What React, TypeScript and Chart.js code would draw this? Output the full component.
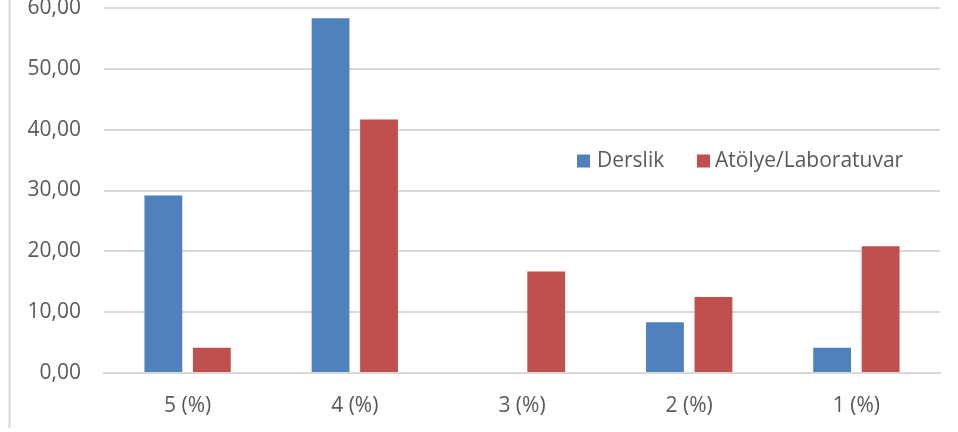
import React, { useEffect, useRef } from "react";
import { Chart, registerables } from "chart.js";

Chart.register(...registerables);

const categories = ["5 (%)", "4 (%)", "3 (%)", "2 (%)", "1 (%)"];
const dersLikValues = [29.17, 58.33, 0, 8.33, 4.17];
const atolyeValues = [4.17, 41.67, 16.67, 12.5, 20.83];
const seriesNames = ["Derslik", "Atölye/Laboratuvar"];
const seriesColors = ["#4f81bd", "#c0504d"];

const CROP = 20;
const FONT = "'Open Sans', sans-serif";
const FSIZE = 21;
const TEXT = "#595959";
const GRID = "#d9d9d9";

const decorPlugin = {
  id: "decor",
  beforeDraw(chart: any) {
    const ctx = chart.ctx;
    ctx.save();
    ctx.strokeStyle = GRID;
    ctx.lineWidth = 2;
    ctx.beginPath();
    ctx.moveTo(9.5, 0);
    ctx.lineTo(9.5, 428 + CROP);
    ctx.stroke();
    ctx.restore();
  },
  afterDraw(chart: any) {
    const ctx = chart.ctx;
    ctx.save();
    ctx.font = `${FSIZE}px ${FONT}`;
    ctx.textBaseline = "middle";
    ctx.textAlign = "left";
    const cy = 161 + CROP;
    const items = [
      { box: 577, text: 597 },
      { box: 697, text: 715 },
    ];
    chart.data.datasets.forEach((ds: any, i: number) => {
      const it = items[i];
      ctx.fillStyle = ds.backgroundColor;
      ctx.fillRect(it.box, cy - 6.5, 13, 13);
      ctx.fillStyle = TEXT;
      ctx.fillText(ds.label, it.text, cy);
    });
    ctx.restore();
  },
};

export default function App() {
  const ref = useRef<HTMLCanvasElement>(null);
  useEffect(() => {
    document.body.style.margin = "0";
    const chart = new Chart(ref.current!, {
      type: "bar",
      data: {
        labels: categories,
        datasets: [
          { label: seriesNames[0], data: dersLikValues, backgroundColor: seriesColors[0] },
          { label: seriesNames[1], data: atolyeValues, backgroundColor: seriesColors[1] },
        ],
      },
      options: {
        animation: false,
        responsive: true,
        maintainAspectRatio: false,
        datasets: { bar: { categoryPercentage: 0.58, barPercentage: 0.78 } } as any,
        layout: { padding: { top: 8 + CROP, right: 18, bottom: 0, left: 0 } },
        plugins: { legend: { display: false }, tooltip: { enabled: false } },
        scales: {
          x: {
            grid: { display: false, drawTicks: false },
            border: { display: true, color: GRID, width: 2 },
            ticks: { color: TEXT, font: { family: FONT, size: FSIZE }, padding: 20 },
            afterFit: (s: any) => {
              s.height = 432 + CROP - (373 + CROP);
              s.paddingLeft = 0;
              s.paddingRight = 0;
            },
          },
          y: {
            min: 0,
            max: 60,
            grid: { color: GRID, lineWidth: 2, drawTicks: false },
            border: { display: false },
            ticks: {
              stepSize: 10,
              color: TEXT,
              font: { family: FONT, size: FSIZE },
              padding: 23,
              callback: (v: any) => Number(v).toFixed(2).replace(".", ","),
            },
            afterFit: (s: any) => {
              s.width = 104;
              s.paddingTop = 0;
              s.paddingBottom = 0;
            },
          },
        },
      },
      plugins: [decorPlugin],
    });
    return () => chart.destroy();
  }, []);
  return (
    <div style={{ position: "relative", width: 958, height: 432, overflow: "hidden", background: "#fff" }}>
      <div style={{ position: "absolute", top: -CROP, left: 0, width: 958, height: 432 + CROP }}>
        <canvas ref={ref} />
      </div>
    </div>
  );
}
